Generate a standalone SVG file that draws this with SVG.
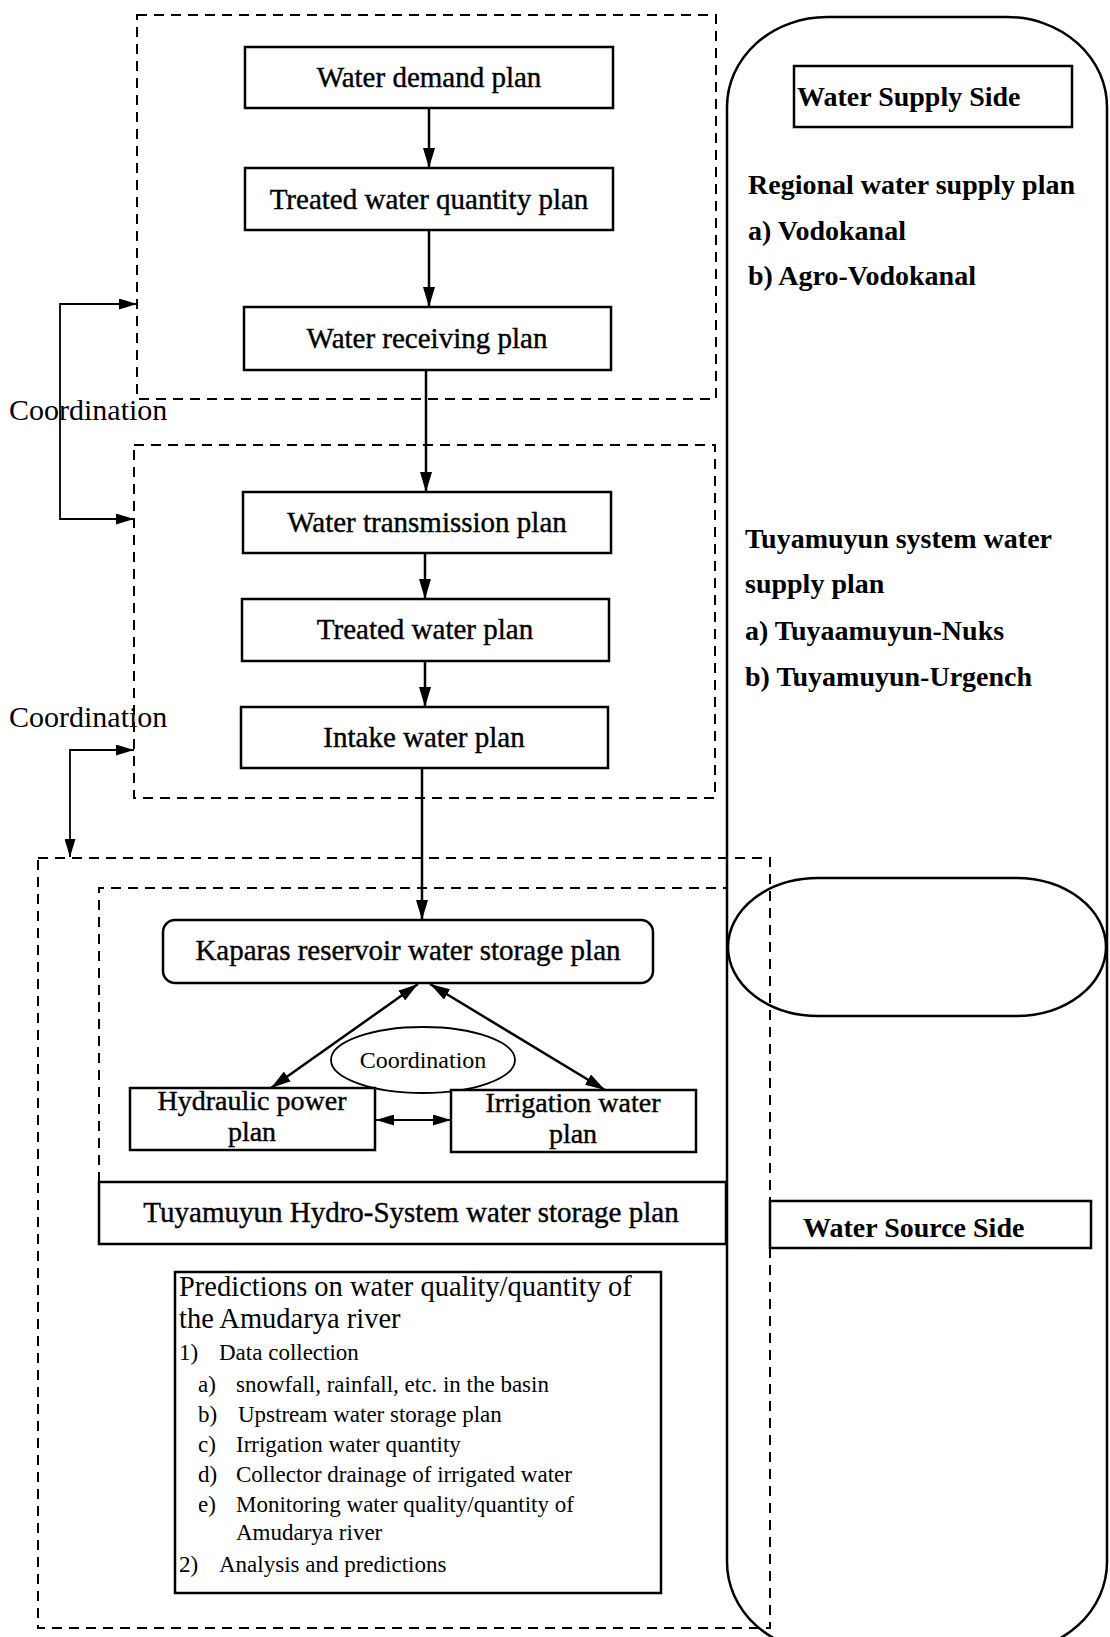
<svg xmlns="http://www.w3.org/2000/svg" width="1110" height="1637" viewBox="0 0 1110 1637">
<style>
text{font-family:"Liberation Serif","Times New Roman",serif;fill:#000}
.box{fill:#fff;stroke:#000;stroke-width:2.5}
.shape{fill:none;stroke:#000;stroke-width:2.5}
.dash{fill:none;stroke:#000;stroke-width:2;stroke-dasharray:10 7}
.ln{fill:none;stroke:#000;stroke-width:2.5}
.thin{fill:none;stroke:#000;stroke-width:1.8}
.c{font-size:29px;text-anchor:middle;stroke:#000;stroke-width:0.4}
.c2{font-size:28px;text-anchor:middle;stroke:#000;stroke-width:0.4}
.rt{font-size:28px;font-weight:bold}
.sm{font-size:23px}
.lab{font-size:30px}
</style>
<defs>
<marker id="ah" viewBox="0 0 20 12" refX="20" refY="6" markerWidth="20" markerHeight="12" markerUnits="userSpaceOnUse" orient="auto-start-reverse"><path d="M0,0 L20,6 L0,12 z" fill="#000"/></marker>
<marker id="ahs" viewBox="0 0 18 11" refX="18" refY="5.5" markerWidth="18" markerHeight="11" markerUnits="userSpaceOnUse" orient="auto-start-reverse"><path d="M0,0 L18,5.5 L0,11 z" fill="#000"/></marker>
</defs>
<rect x="0" y="0" width="1110" height="1637" fill="#fff"/>

<g id="supply-side-pill">
<rect class="shape" x="727" y="17" width="380" height="1635" rx="100" ry="90"/>
</g>
<g id="interface-ellipse">
<rect class="shape" x="728" y="878" width="378" height="138" rx="90" ry="69"/>
</g>

<g id="group-demand">
<rect class="dash" x="137" y="15" width="579" height="384"/>
</g>
<g id="group-transmission">
<rect class="dash" x="134" y="445" width="581" height="353"/>
</g>
<g id="group-source">
<rect class="dash" x="38" y="858" width="732" height="770"/>
</g>
<g id="group-tuyamuyun">
<path class="dash" d="M99,1182 V888 H727"/>
</g>

<g id="water-demand-plan">
<rect class="box" x="245" y="47" width="368" height="61"/>
<text class="c" x="429" y="87">Water demand plan</text>
</g>
<g id="treated-water-quantity-plan">
<rect class="box" x="245" y="168" width="368" height="62"/>
<text class="c" x="429" y="209">Treated water quantity plan</text>
</g>
<g id="water-receiving-plan">
<rect class="box" x="244" y="307" width="367" height="63"/>
<text class="c" x="427" y="348">Water receiving plan</text>
</g>
<g id="water-transmission-plan">
<rect class="box" x="243" y="492" width="368" height="61"/>
<text class="c" x="427" y="532">Water transmission plan</text>
</g>
<g id="treated-water-plan">
<rect class="box" x="242" y="599" width="367" height="62"/>
<text class="c" x="425" y="639">Treated water plan</text>
</g>
<g id="intake-water-plan">
<rect class="box" x="241" y="707" width="367" height="61"/>
<text class="c" x="424" y="747">Intake water plan</text>
</g>
<g id="kaparas-plan">
<rect class="box" x="163" y="920" width="490" height="63" rx="12" ry="12"/>
<text class="c" x="408" y="960">Kaparas reservoir water storage plan</text>
</g>
<g id="coordination-ellipse">
<ellipse class="thin" cx="423" cy="1060" rx="92" ry="33"/>
<text x="423" y="1068" style="font-size:24px;text-anchor:middle">Coordination</text>
</g>
<g id="hydraulic-power-plan">
<rect class="box" x="130" y="1088" width="245" height="62"/>
<text class="c2" x="252" y="1110">Hydraulic power</text>
<text class="c2" x="252" y="1141">plan</text>
</g>
<g id="irrigation-water-plan">
<rect class="box" x="451" y="1090" width="245" height="62"/>
<text class="c2" x="573" y="1112">Irrigation water</text>
<text class="c2" x="573" y="1143">plan</text>
</g>
<g id="tuyamuyun-storage-plan">
<rect class="box" x="99" y="1182" width="627" height="62"/>
<text class="c" x="411" y="1222">Tuyamuyun Hydro-System water storage plan</text>
</g>
<g id="predictions">
<rect class="box" x="175" y="1272" width="486" height="321"/>
<text x="179" y="1296" style="font-size:28.5px">Predictions on water quality/quantity of</text>
<text x="179" y="1328" style="font-size:28.5px">the Amudarya river</text>
<text class="sm" x="179" y="1360">1)</text>
<text class="sm" x="219" y="1360">Data collection</text>
<text class="sm" x="198" y="1392">a)</text>
<text class="sm" x="236" y="1392">snowfall, rainfall, etc. in the basin</text>
<text class="sm" x="198" y="1422">b)</text>
<text class="sm" x="238" y="1422">Upstream water storage plan</text>
<text class="sm" x="198" y="1452">c)</text>
<text class="sm" x="236" y="1452">Irrigation  water quantity</text>
<text class="sm" x="198" y="1482">d)</text>
<text class="sm" x="236" y="1482">Collector drainage of irrigated water</text>
<text class="sm" x="198" y="1512">e)</text>
<text class="sm" x="236" y="1512">Monitoring  water quality/quantity of</text>
<text class="sm" x="236" y="1540">Amudarya river</text>
<text class="sm" x="179" y="1572">2)</text>
<text class="sm" x="219" y="1572">Analysis and predictions</text>
</g>

<g id="water-supply-side">
<rect class="box" x="794" y="66" width="278" height="61"/>
<text class="rt" x="797" y="106">Water Supply Side</text>
</g>
<g id="regional-supply-text">
<text class="rt" x="748" y="194">Regional water supply plan</text>
<text class="rt" x="748" y="240">a) Vodokanal</text>
<text class="rt" x="748" y="285">b) Agro-Vodokanal</text>
</g>
<g id="tuyamuyun-supply-text">
<text class="rt" x="745" y="548">Tuyamuyun system water</text>
<text class="rt" x="745" y="593">supply plan</text>
<text class="rt" x="745" y="640">a) Tuyaamuyun-Nuks</text>
<text class="rt" x="745" y="686">b) Tuyamuyun-Urgench</text>
</g>
<g id="water-source-side">
<rect class="box" x="770" y="1201" width="321" height="47"/>
<text class="rt" x="803" y="1237">Water Source Side</text>
</g>

<g id="connectors">
<line class="ln" x1="429" y1="108" x2="429" y2="168" marker-end="url(#ah)"/>
<line class="ln" x1="429" y1="230" x2="429" y2="307" marker-end="url(#ah)"/>
<line class="ln" x1="426" y1="370" x2="426" y2="492" marker-end="url(#ah)"/>
<line class="ln" x1="425" y1="553" x2="425" y2="599" marker-end="url(#ah)"/>
<line class="ln" x1="425" y1="661" x2="425" y2="707" marker-end="url(#ah)"/>
<line class="ln" x1="422" y1="768" x2="422" y2="920" marker-end="url(#ah)"/>
<line class="ln" x1="418" y1="984" x2="271" y2="1088" marker-start="url(#ah)" marker-end="url(#ah)"/>
<line class="ln" x1="430" y1="984" x2="605" y2="1090" marker-start="url(#ah)" marker-end="url(#ah)"/>
<line class="thin" x1="376" y1="1120" x2="451" y2="1120" marker-start="url(#ahs)" marker-end="url(#ahs)"/>
<path class="thin" d="M137,304 H60 V519 H134" marker-start="url(#ahs)" marker-end="url(#ahs)"/>
<path class="thin" d="M134,750 H70 V857" marker-start="url(#ahs)" marker-end="url(#ahs)"/>
</g>

<g id="coordination-labels">
<text class="lab" x="9" y="420">Coordination</text>
<text class="lab" x="9" y="727">Coordination</text>
</g>
</svg>
